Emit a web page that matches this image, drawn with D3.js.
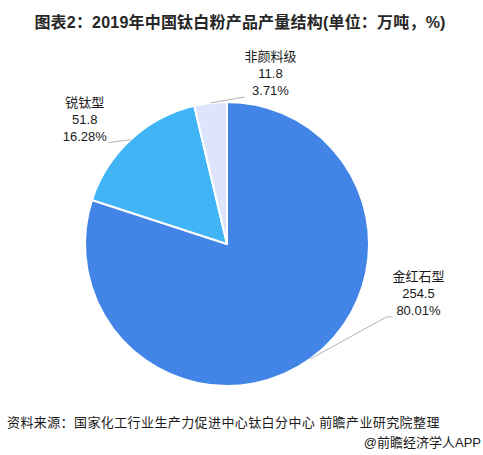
<!DOCTYPE html>
<html>
<head>
<meta charset="utf-8">
<script src="https://cdn.jsdelivr.net/npm/d3@7"></script>
<style>
  html, body { margin: 0; padding: 0; background: #fff; }
  svg { display: block; }
  text { font-family: "Liberation Sans", "Noto Sans CJK SC", sans-serif; }
</style>
</head>
<body>
<div id="chart"></div>
<script>
// 数据
const categories = ["金红石型", "锐钛型", "非颜料级"];
const values = [254.5, 51.8, 11.8];
const percentLabels = ["80.01%", "16.28%", "3.71%"];
const colors = ["#4385e6", "#41b4f6", "#dde4fb"];

const titleText = "图表2：2019年中国钛白粉产品产量结构(单位：万吨，%)";
const sourceText = "资料来源：国家化工行业生产力促进中心钛白分中心 前瞻产业研究院整理";
const brandText = "@前瞻经济学人APP";

const width = 483, height = 455;
const cx = 227, cy = 244, radius = 142;

// 标签引导线的偏移 (相对于扇区外缘点)
const labelLayout = [
    { elbow: [76, -42], tail: 6, side: "right" },
    { elbow: [-22, 3], tail: 0, side: "left" },
    { elbow: [34, -6], tail: 0, side: "right" }
];

const svg = d3.select("#chart")
    .append("svg")
    .attr("width", width)
    .attr("height", height);

svg.append("text")
    .attr("x", 240)
    .attr("y", 28)
    .attr("text-anchor", "middle")
    .attr("font-size", "16px")
    .attr("font-weight", "bold")
    .attr("letter-spacing", "0.2px")
    .attr("fill", "#262626")
    .text(titleText);

const data = categories.map((c, i) => ({ name: c, value: values[i], pct: percentLabels[i], color: colors[i] }));

const pie = d3.pie().sort(null).value(d => d.value);
const arcs = pie(data);

const arc = d3.arc().innerRadius(0).outerRadius(radius);

const g = svg.append("g").attr("transform", `translate(${cx},${cy})`);

g.selectAll("path.slice")
    .data(arcs)
    .enter()
    .append("path")
    .attr("class", "slice")
    .attr("d", arc)
    .attr("fill", d => d.data.color)
    .attr("stroke", "#fff")
    .attr("stroke-width", 2)
    .attr("stroke-linejoin", "round");

// 标签
arcs.forEach((d, i) => {
    const mid = (d.startAngle + d.endAngle) / 2;
    const p0 = [radius * Math.sin(mid), -radius * Math.cos(mid)];
    const lay = labelLayout[i];
    const p1 = [p0[0] + lay.elbow[0], p0[1] + lay.elbow[1]];
    const dir = lay.side === "right" ? 1 : -1;
    const p2 = [p1[0] + dir * lay.tail, p1[1]];

    g.append("polyline")
        .attr("points", [p0, p1, p2].map(p => p.join(",")).join(" "))
        .attr("fill", "none")
        .attr("stroke", "#b3b3b3")
        .attr("stroke-width", 1);

    const lines = [d.data.name, String(d.data.value), d.data.pct];
    const t = g.append("text")
        .attr("font-size", "13px")
        .attr("fill", "#1a1a1a")
        .attr("text-anchor", "middle");
    lines.forEach(l => {
        t.append("tspan").text(l);
    });
    // 测量最宽的一行
    let maxW = 0;
    t.selectAll("tspan").each(function () {
        maxW = Math.max(maxW, this.getComputedTextLength());
    });
    const centerX = lay.side === "right" ? p2[0] + maxW / 2 : p2[0] - maxW / 2 - 2;
    const lineH = 17;
    t.selectAll("tspan")
        .attr("x", centerX)
        .attr("y", (l, k) => p2[1] - 2 - (lines.length - 1 - k) * lineH);
});

svg.append("text")
    .attr("x", 7)
    .attr("y", 427)
    .attr("font-size", "13px")
    .attr("letter-spacing", "0.4px")
    .attr("fill", "#1a1a1a")
    .text(sourceText);

svg.append("text")
    .attr("x", 481)
    .attr("y", 447)
    .attr("text-anchor", "end")
    .attr("font-size", "13px")
    .attr("fill", "#1a1a1a")
    .text(brandText);
</script>
</body>
</html>
